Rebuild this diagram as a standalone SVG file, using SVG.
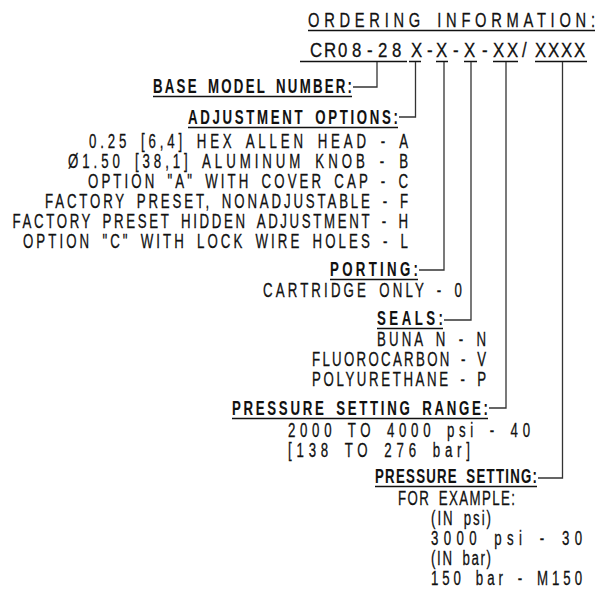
<svg xmlns="http://www.w3.org/2000/svg" width="599" height="592" viewBox="0 0 599 592">
<style>
text{font-family:'Liberation Sans',Arial,sans-serif;fill:#111;stroke:#111;stroke-width:0.3px;font-size:19.5px;word-spacing:5px}
.t{font-size:21px}
.code{font-size:21px;word-spacing:0}
.h{font-weight:bold;stroke-width:0.1px}
.ul{stroke:#111;stroke-width:1.4;fill:none}
.c{stroke:#333;stroke-width:1.3;fill:none}
</style>
<rect width="599" height="592" fill="#fff"/>
<g id="title">
<text class="t" transform="scale(0.7,1)" x="440" y="27" textLength="410" lengthAdjust="spacing">ORDERING INFORMATION:</text>
<line class="ul" x1="308" y1="30.5" x2="595" y2="30.5"/>
</g>
<g id="model-code">
<text class="code" transform="scale(0.8,1)" y="57" x="387.5 405 422.5 440 458.75 472.5 490 513.75 533.75 545 566.25 580 602.5 616.25 633.75 652.5 668.75 685 701.25 717.5">CR08-28X-X-X-XX/XXXX</text>
<path class="ul" d="M300 61.5H407M409 61.5H421M436 61.5H448M464 61.5H477M493 61.5H518M535 61.5H587"/>
</g>
<g id="base-model">
<text class="h" transform="scale(0.68,1)" x="225" y="93" textLength="292.65" lengthAdjust="spacing">BASE MODEL NUMBER:</text>
<line class="ul" x1="153" y1="96.5" x2="352" y2="96.5"/>
</g>
<g id="adjustment">
<text class="h" transform="scale(0.68,1)" x="276.47" y="124" textLength="308.82" lengthAdjust="spacing">ADJUSTMENT OPTIONS:</text>
<line class="ul" x1="188" y1="127.5" x2="398" y2="127.5"/>
<text transform="scale(0.68,1)" x="130.88" y="148" textLength="469.12" lengthAdjust="spacing">0.25 [6,4] HEX ALLEN HEAD - A</text>
<text transform="scale(0.68,1)" x="100" y="168" textLength="500" lengthAdjust="spacing">Ø1.50 [38,1] ALUMINUM KNOB - B</text>
<text transform="scale(0.68,1)" x="129.41" y="188" textLength="470.59" lengthAdjust="spacing">OPTION "A" WITH COVER CAP - C</text>
<text transform="scale(0.68,1)" x="66.18" y="208" textLength="533.82" lengthAdjust="spacing">FACTORY PRESET, NONADJUSTABLE - F</text>
<text transform="scale(0.68,1)" x="18.38" y="228" textLength="581.62" lengthAdjust="spacing">FACTORY PRESET HIDDEN ADJUSTMENT - H</text>
<text transform="scale(0.68,1)" x="33.82" y="248" textLength="566.18" lengthAdjust="spacing">OPTION "C" WITH LOCK WIRE HOLES - L</text>
</g>
<g id="porting">
<text class="h" transform="scale(0.68,1)" x="485.29" y="276" textLength="129.41" lengthAdjust="spacing">PORTING:</text>
<line class="ul" x1="330" y1="279.5" x2="418" y2="279.5"/>
<text transform="scale(0.68,1)" x="386.76" y="297" textLength="292.65" lengthAdjust="spacing">CARTRIDGE ONLY - 0</text>
</g>
<g id="seals">
<text class="h" transform="scale(0.68,1)" x="554.41" y="325" textLength="97.06" lengthAdjust="spacing">SEALS:</text>
<line class="ul" x1="377" y1="328.5" x2="443" y2="328.5"/>
<text transform="scale(0.68,1)" x="554.41" y="346" textLength="160.29" lengthAdjust="spacing">BUNA N - N</text>
<text transform="scale(0.68,1)" x="458.82" y="366" textLength="255.88" lengthAdjust="spacing">FLUOROCARBON - V</text>
<text transform="scale(0.68,1)" x="458.82" y="386" textLength="255.88" lengthAdjust="spacing">POLYURETHANE - P</text>
</g>
<g id="pressure-range">
<text class="h" transform="scale(0.68,1)" x="341.18" y="415" textLength="376.47" lengthAdjust="spacing">PRESSURE SETTING RANGE:</text>
<line class="ul" x1="232" y1="418.5" x2="488" y2="418.5"/>
<text transform="scale(0.68,1)" x="423.53" y="437" textLength="355.88" lengthAdjust="spacing">2000 TO 4000 psi -  40</text>
<text transform="scale(0.68,1)" x="423.53" y="457" textLength="267.65" lengthAdjust="spacing">[138 TO 276 bar]</text>
</g>
<g id="pressure-setting">
<text class="h" transform="scale(0.68,1)" x="551.47" y="483" textLength="238.24" lengthAdjust="spacing">PRESSURE SETTING:</text>
<line class="ul" x1="375" y1="486.5" x2="537" y2="486.5"/>
<text transform="scale(0.68,1)" x="585.29" y="505" textLength="172.06" lengthAdjust="spacing">FOR EXAMPLE:</text>
<text transform="scale(0.68,1)" x="633.82" y="525" textLength="88.24" lengthAdjust="spacing">(IN psi)</text>
<text transform="scale(0.68,1)" x="633.82" y="545" textLength="222.06" lengthAdjust="spacing">3000 psi   - 30</text>
<text transform="scale(0.68,1)" x="633.82" y="565" textLength="88.24" lengthAdjust="spacing">(IN bar)</text>
<text transform="scale(0.68,1)" x="633.82" y="585" textLength="222.06" lengthAdjust="spacing">150 bar - M150</text>
</g>
<g id="connectors">
<path class="c" d="M377 62V87H353"/>
<path class="c" d="M415.5 62V117H399"/>
<path class="c" d="M444 62V270H419"/>
<path class="c" d="M471 62V320H444"/>
<path class="c" d="M506 62V408H489"/>
<path class="c" d="M562.5 62V478H538"/>
</g>
</svg>
